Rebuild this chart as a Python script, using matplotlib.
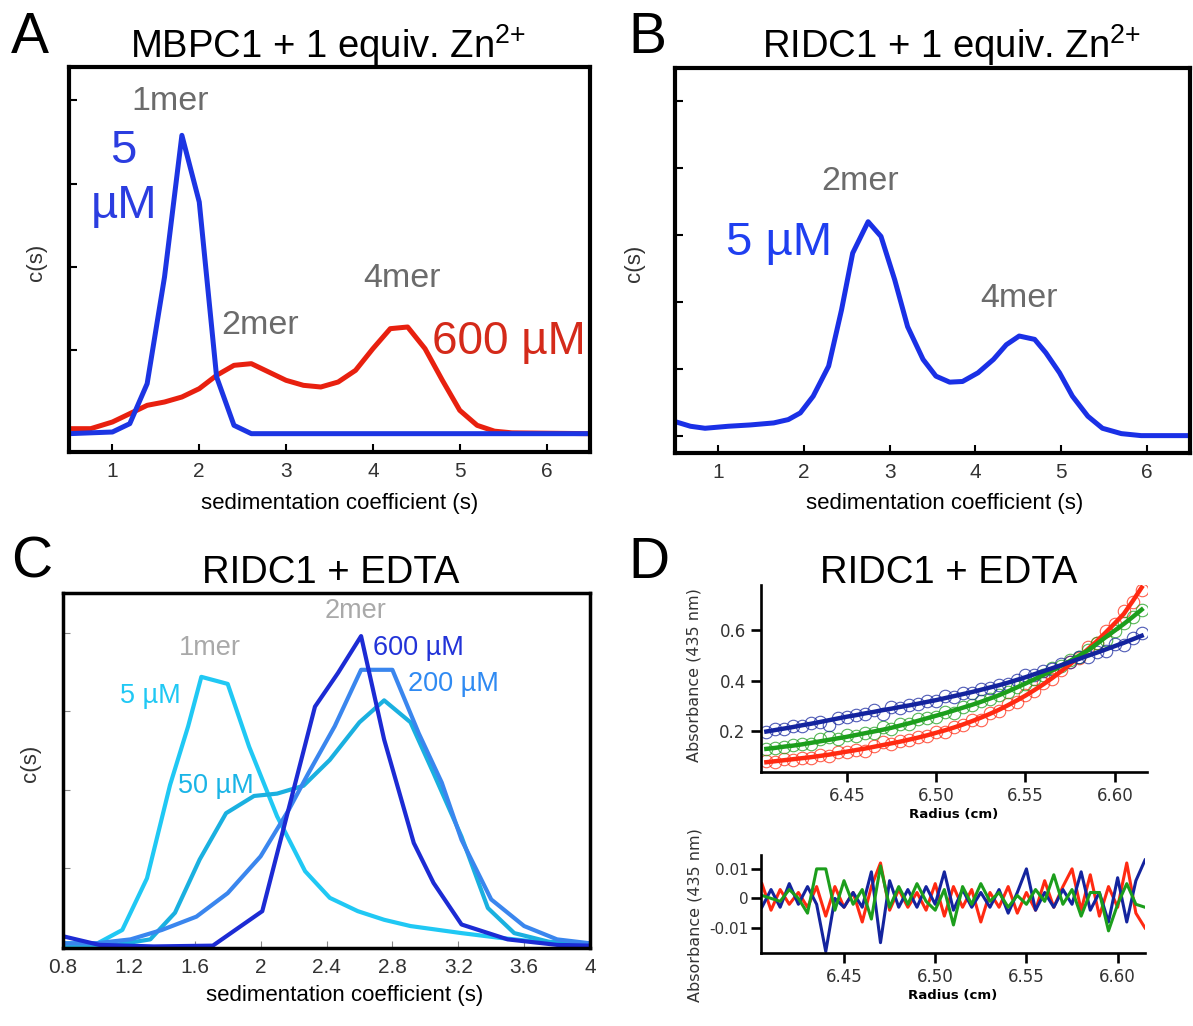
import numpy as np
import matplotlib.pyplot as plt

W, H = 1193, 1026

# ---- panel A: MBPC1 + Zn
a_s_5 = [0.5, 1.0, 1.2, 1.4, 1.6, 1.8, 2.0, 2.2, 2.4, 2.6, 6.5]
a_c_5 = [0, 0.02, 0.12, 0.6, 1.88, 3.58, 2.78, 0.68, 0.1, 0, 0]
a_s_600 = [0.5, 0.75, 1.0, 1.2, 1.4, 1.6, 1.8, 2.0, 2.2, 2.4, 2.6, 2.8, 3.0, 3.2,
           3.4, 3.6, 3.8, 4.0, 4.2, 4.4, 4.6, 4.8, 5.0, 5.2, 5.4, 5.6, 6.5]
a_c_600 = [0.06, 0.06, 0.14, 0.24, 0.34, 0.38, 0.44, 0.54, 0.7, 0.82, 0.84, 0.74,
           0.64, 0.58, 0.56, 0.62, 0.76, 1.02, 1.26, 1.28, 1.02, 0.64, 0.28, 0.1,
           0.03, 0.01, 0]

# ---- panel B: RIDC1 + Zn, 5 uM
b_s = [0.5, 0.68, 0.85, 1.12, 1.38, 1.65, 1.82, 1.96, 2.11, 2.29, 2.44, 2.57, 2.75,
       2.9, 3.06, 3.21, 3.39, 3.54, 3.7, 3.85, 4.03, 4.21, 4.36, 4.51, 4.69, 4.82,
       4.98, 5.13, 5.31, 5.48, 5.7, 5.93, 6.5]
b_c = [0.21, 0.14, 0.11, 0.14, 0.16, 0.19, 0.24, 0.34, 0.59, 1.04, 1.88, 2.73, 3.2,
       2.98, 2.33, 1.63, 1.14, 0.89, 0.8, 0.81, 0.94, 1.14, 1.36, 1.49, 1.44, 1.24,
       0.94, 0.59, 0.29, 0.11, 0.03, 0, 0]

# ---- panel C: RIDC1 + EDTA
c_s_5 = [0.8, 1.01, 1.16, 1.31, 1.45, 1.56, 1.64, 1.8, 1.93, 2.1, 2.27, 2.42, 2.59,
         2.75, 2.91, 3.22, 3.45, 3.68, 4.0]
c_c_5 = [0.04, 0.04, 0.21, 0.87, 2.06, 2.81, 3.44, 3.35, 2.55, 1.66, 0.96, 0.62,
         0.45, 0.34, 0.26, 0.17, 0.11, 0.06, 0.04]
c_s_50 = [0.8, 1.12, 1.33, 1.48, 1.63, 1.79, 1.96, 2.1, 2.26, 2.42, 2.6, 2.75, 2.91,
          3.05, 3.22, 3.38, 3.54, 3.75, 4.0]
c_c_50 = [0.02, 0.02, 0.09, 0.43, 1.11, 1.7, 1.92, 1.95, 2.05, 2.38, 2.86, 3.14,
          2.86, 2.21, 1.4, 0.49, 0.17, 0.06, 0.02]
c_s_200 = [0.8, 1.0, 1.21, 1.4, 1.61, 1.8, 2.0, 2.17, 2.29, 2.45, 2.61, 2.8, 2.96,
           3.1, 3.22, 3.4, 3.6, 3.8, 4.0]
c_c_200 = [0.04, 0.04, 0.09, 0.21, 0.38, 0.68, 1.15, 1.74, 2.21, 2.81, 3.53, 3.53,
           2.72, 2.09, 1.36, 0.6, 0.26, 0.09, 0.04]
c_s_600 = [0.8, 1.02, 1.35, 1.71, 2.01, 2.33, 2.47, 2.61, 2.75, 2.93, 3.05, 3.22,
           3.5, 3.8, 4.0]
c_c_600 = [0.13, 0.02, 0, 0.01, 0.45, 3.06, 3.49, 3.96, 2.64, 1.32, 0.81, 0.28,
           0.09, 0.02, 0.01]

# ---- panel D: equilibrium scans, fits and residuals
radius = [6.405, 6.410, 6.415, 6.420, 6.425, 6.430, 6.435, 6.440, 6.445, 6.450,
          6.455, 6.460, 6.465, 6.470, 6.475, 6.480, 6.485, 6.490, 6.495, 6.500,
          6.505, 6.510, 6.515, 6.520, 6.525, 6.530, 6.535, 6.540, 6.545, 6.550,
          6.555, 6.560, 6.565, 6.570, 6.575, 6.580, 6.585, 6.590, 6.595, 6.600,
          6.605, 6.610, 6.615]
fit_blue = [0.197, 0.203, 0.209, 0.215, 0.222, 0.228, 0.235, 0.242, 0.249, 0.256,
            0.262, 0.269, 0.275, 0.282, 0.288, 0.295, 0.301, 0.308, 0.315, 0.322,
            0.330, 0.338, 0.346, 0.354, 0.363, 0.372, 0.381, 0.391, 0.402, 0.413,
            0.425, 0.437, 0.449, 0.461, 0.474, 0.486, 0.499, 0.511, 0.524, 0.537,
            0.550, 0.564, 0.578]
fit_green = [0.128, 0.132, 0.137, 0.141, 0.146, 0.152, 0.158, 0.164, 0.170, 0.176,
             0.183, 0.190, 0.197, 0.204, 0.212, 0.221, 0.230, 0.240, 0.250, 0.260,
             0.270, 0.281, 0.292, 0.303, 0.315, 0.328, 0.341, 0.356, 0.372, 0.388,
             0.405, 0.422, 0.440, 0.459, 0.478, 0.499, 0.520, 0.546, 0.573, 0.599,
             0.625, 0.653, 0.682]
fit_red = [0.075, 0.079, 0.083, 0.087, 0.091, 0.095, 0.100, 0.105, 0.111, 0.117,
           0.123, 0.129, 0.136, 0.143, 0.150, 0.157, 0.165, 0.173, 0.182, 0.192,
           0.202, 0.213, 0.225, 0.238, 0.252, 0.267, 0.283, 0.301, 0.320, 0.340,
           0.362, 0.385, 0.410, 0.437, 0.465, 0.494, 0.525, 0.557, 0.592, 0.628,
           0.665, 0.716, 0.770]
res_blue = [-0.003, 0.003, -0.003, 0.005, -0.002, 0.004, -0.002, -0.018, 0.0, -0.003,
            0.002, -0.003, 0.009, -0.015, 0.006, -0.003, 0.003, -0.003, 0.004, -0.002,
            0.009, -0.004, 0.003, -0.003, 0.002, -0.003, 0.003, -0.005, 0.002, 0.010,
            -0.004, 0.002, -0.003, 0.003, -0.002, 0.009, -0.004, 0.002, -0.008, 0.007,
            -0.008, 0.006, 0.013]
res_green = [0.001, 0.0, -0.001, 0.003, 0.0, -0.005, 0.010, 0.010, -0.004, 0.006,
             -0.002, 0.003, -0.007, 0.011, -0.003, 0.004, -0.002, 0.005, -0.001, -0.004,
             0.003, -0.009, 0.004, -0.002, 0.005, -0.001, 0.002, -0.003, 0.001, -0.002,
             0.003, -0.001, 0.008, -0.002, 0.003, -0.006, 0.002, 0.002, -0.011, -0.002,
             0.005, -0.002, -0.003]
res_red = [0.005, -0.004, 0.003, -0.002, 0.002, -0.003, 0.004, -0.006, 0.004, -0.003,
           0.002, -0.008, 0.004, 0.012, -0.004, 0.003, -0.003, 0.002, -0.004, 0.005,
           -0.006, 0.004, -0.003, 0.003, -0.008, 0.002, -0.003, 0.004, -0.005, 0.002,
           -0.004, 0.006, -0.003, 0.004, 0.010, -0.004, 0.008, -0.006, 0.004, -0.003,
           0.012, -0.005, -0.010]

SANS = 'Liberation Sans'
GRAY = '#6b6b6b'
LGRAY = '#a9a9a9'

plt.rcParams['mathtext.fontset'] = 'custom'
plt.rcParams['mathtext.rm'] = SANS
plt.rcParams['mathtext.it'] = SANS


def rect(l, t, r, b):
    # pixel box -> figure fraction
    return [l / W, 1 - b / H, (r - l) / W, (b - t) / H]


def fx(x):
    return x / W


def fy(y):
    return 1 - y / H


fig = plt.figure(figsize=(W / 100, H / 100), dpi=100)


def box_axes(pos, xlim, ylim, xticks, yticks, xlabels, lw):
    ax = fig.add_axes(pos)
    ax.set_xlim(*xlim)
    ax.set_ylim(*ylim)
    ax.set_xticks(xticks)
    ax.set_xticklabels(xlabels, fontfamily=SANS, fontsize=15, color='#333333')
    ax.set_yticks(yticks)
    ax.tick_params(direction='in', length=6, width=1.5, labelleft=False, pad=7)
    for sp in ax.spines.values():
        sp.set_linewidth(lw)
    return ax


# ---------------- A
axA = box_axes(rect(69, 67, 590, 452), (0.5, 6.5), (-0.22, 4.4),
               [1, 2, 3, 4, 5, 6], [0, 1, 2, 3, 4], ['1', '2', '3', '4', '5', '6'], 3)
axA.plot(a_s_600, a_c_600, color='#e8200f', lw=3.6)
axA.plot(a_s_5, a_c_5, color='#1c35e3', lw=3.6)
axA.text(1.67, 3.89, '1mer', color=GRAY, fontsize=24.5, ha='center', fontfamily=SANS)
axA.text(1.13, 3.25, '5', color='#2b3de0', fontsize=34, ha='center', fontfamily=SANS)
axA.text(1.13, 2.59, 'µM', color='#2b3de0', fontsize=34, ha='center', fontfamily=SANS)
axA.text(2.7, 1.2, '2mer', color=GRAY, fontsize=24.5, ha='center', fontfamily=SANS)
axA.text(4.33, 1.76, '4mer', color=GRAY, fontsize=24.5, ha='center', fontfamily=SANS)
axA.text(5.57, 0.96, '600 µM', color='#d42a1a', fontsize=33, ha='center', fontfamily=SANS)

# ---------------- B
axB = box_axes(rect(675, 68, 1190, 453), (0.5, 6.5), (-0.26, 5.5),
               [1, 2, 3, 4, 5, 6], [0, 1, 2, 3, 4, 5], ['1', '2', '3', '4', '5', '6'], 3)
axB.plot(b_s, b_c, color='#1a30e6', lw=3.6)
axB.text(2.66, 3.67, '2mer', color=GRAY, fontsize=24.5, ha='center', fontfamily=SANS)
axB.text(1.71, 2.7, '5 µM', color='#1f3ff0', fontsize=34, ha='center', fontfamily=SANS)
axB.text(4.51, 1.93, '4mer', color=GRAY, fontsize=24.5, ha='center', fontfamily=SANS)

# ---------------- C
cx = [0.8, 1.2, 1.6, 2.0, 2.4, 2.8, 3.2, 3.6, 4.0]
axC = box_axes(rect(63, 593, 590, 948), (0.8, 4.0), (-0.02, 4.51),
               cx, [0, 1, 2, 3, 4], ['0.8', '1.2', '1.6', '2', '2.4', '2.8', '3.2', '3.6', '4'], 2.5)
axC.tick_params(width=0.8, length=5, color='#888888')
axC.plot(c_s_5, c_c_5, color='#20c8f4', lw=3)
axC.plot(c_s_50, c_c_50, color='#1ab0e0', lw=3)
axC.plot(c_s_200, c_c_200, color='#3a86ee', lw=3)
axC.plot(c_s_600, c_c_600, color='#1c2bd4', lw=3)
axC.text(2.575, 4.19, '2mer', color=LGRAY, fontsize=19.5, ha='center', fontfamily=SANS)
axC.text(1.69, 3.72, '1mer', color=LGRAY, fontsize=19.5, ha='center', fontfamily=SANS)
axC.text(1.33, 3.11, '5 µM', color='#20c8f4', fontsize=19.5, ha='center', fontfamily=SANS)
axC.text(1.73, 1.96, '50 µM', color='#1ab4e6', fontsize=19.5, ha='center', fontfamily=SANS)
axC.text(2.96, 3.72, '600 µM', color='#2233d8', fontsize=19.5, ha='center', fontfamily=SANS)
axC.text(3.17, 3.26, '200 µM', color='#2f8af2', fontsize=19.5, ha='center', fontfamily=SANS)

# ---------------- D
cols = {'red': '#ff2a12', 'green': '#1c9e1c', 'blue': '#14249e'}
axD = fig.add_axes(rect(761, 585, 1147, 772))
axR = fig.add_axes(rect(761, 855, 1145, 953))
r = np.array(radius)
for name, fit, res in [('red', fit_red, res_red), ('green', fit_green, res_green),
                       ('blue', fit_blue, res_blue)]:
    obs = np.array(fit) + np.array(res)
    axD.plot(r, obs, 'o', mfc='none', mec=cols[name], ms=9, mew=0.8, alpha=0.75)
for name, fit in [('red', fit_red), ('green', fit_green), ('blue', fit_blue)]:
    axD.plot(r, fit, color=cols[name], lw=3.2)
for name, res in [('red', res_red), ('blue', res_blue), ('green', res_green)]:
    axR.plot(r, res, color=cols[name], lw=2.2)

axD.set_xlim(6.402, 6.618)
axD.set_ylim(0.036, 0.78)
axD.set_yticks([0.2, 0.4, 0.6])
axD.set_yticklabels(['0.2', '0.4', '0.6'])
axR.set_xlim(6.4045, 6.615)
axR.set_ylim(-0.0185, 0.0147)
axR.set_yticks([-0.01, 0, 0.01])
axR.set_yticklabels(['-0.01', '0', '0.01'])
for ax in (axD, axR):
    ax.set_xticks([6.45, 6.50, 6.55, 6.60])
    ax.set_xticklabels(['6.45', '6.50', '6.55', '6.60'])
    ax.spines['top'].set_visible(False)
    ax.spines['right'].set_visible(False)
    ax.spines['left'].set_linewidth(1.9)
    ax.spines['bottom'].set_linewidth(1.9)
    ax.tick_params(direction='out', length=7, width=1.9, labelsize=12,
                   labelcolor='#333333', pad=4)
    ax.set_xlabel('Radius (cm)', fontsize=9.5, fontweight='bold', labelpad=2)
axR.tick_params(axis='y', labelsize=11, pad=2)

fig.text(fx(694), fy(675), 'Absorbance (435 nm)', fontsize=11.5, rotation=90,
         ha='center', va='center', color='#333333')
fig.text(fx(695), fy(915), 'Absorbance (435 nm)', fontsize=11.5, rotation=90,
         ha='center', va='center', color='#333333')

# ---------------- titles, letters, axis labels
fig.text(fx(328), fy(58), 'MBPC1 + 1 equiv. Zn$^{2{+}}$', fontsize=27.5, ha='center',
         va='baseline', fontfamily=SANS)
fig.text(fx(952), fy(58), 'RIDC1 + 1 equiv. Zn$^{2{+}}$', fontsize=27.5, ha='center',
         va='baseline', fontfamily=SANS)
fig.text(fx(331), fy(583), 'RIDC1 + EDTA', fontsize=27.5, ha='center', va='baseline',
         fontfamily=SANS)
fig.text(fx(949), fy(583), 'RIDC1 + EDTA', fontsize=27.5, ha='center', va='baseline',
         fontfamily=SANS)

for lab, x, y in [('A', 11, 53), ('B', 628, 53), ('C', 11, 578), ('D', 628, 578)]:
    fig.text(fx(x), fy(y), lab, fontsize=41, ha='left', va='baseline', fontfamily=SANS)

for x, y in [(37, 262), (635, 263), (31, 763)]:
    fig.text(fx(x), fy(y), 'c(s)', fontsize=16, rotation=90, ha='center', va='center',
             fontfamily=SANS, color='#333333')
for x, y in [(340, 503), (945, 503), (345, 995)]:
    fig.text(fx(x), fy(y), 'sedimentation coefficient (s)', fontsize=16, ha='center',
             va='center', fontfamily=SANS)

fig.savefig('out.png', dpi=100)
